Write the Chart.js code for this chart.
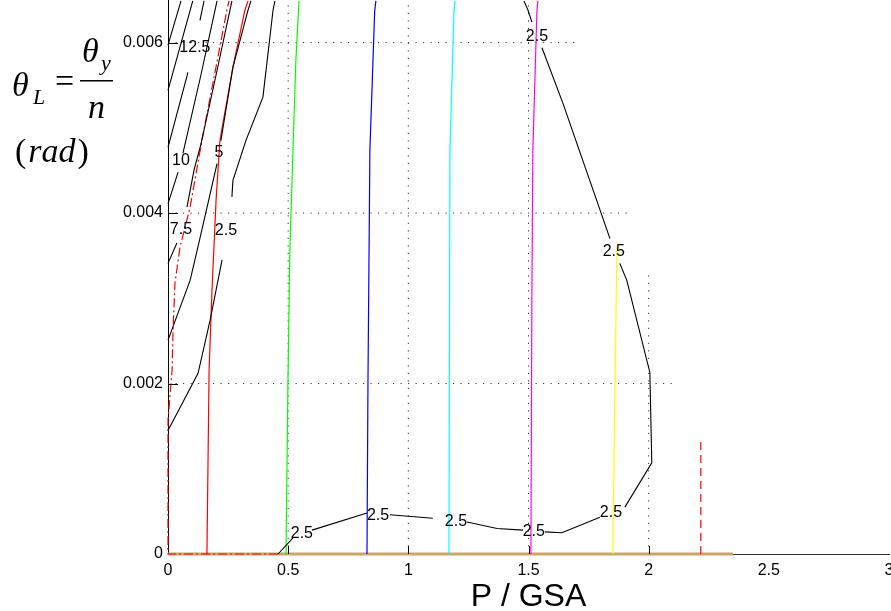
<!DOCTYPE html>
<html>
<head>
<meta charset="utf-8">
<title>theta_L contours vs P / GSA</title>
<script src="https://cdn.jsdelivr.net/npm/chart.js@4/dist/chart.umd.min.js"></script>
<style>
  html, body { margin: 0; padding: 0; background: #fff; overflow: hidden; }
  #wrap { width: 891px; height: 611px; }
</style>
</head>
<body>
<div id="wrap"><canvas id="chart" width="891" height="611"></canvas></div>
<script>
'use strict';

/* ── Axes (y in units of 1e-3 rad) ── */
const xTicks = [0, 0.5, 1, 1.5, 2, 2.5, 3];
const yTicks = [0, 2, 4, 6];
const xInnerTicks = [0.5, 1, 1.5, 2];
const yInnerTicks = [2, 4, 6];

/* dotted grid: rows [y, x end], cols [x, y end] */
const gridRows = [[6, 1.70], [4, 1.913], [2, 2.12]];
const gridCols = [[0.5, 6.5], [1, 6.5], [1.5, 6.5], [2, 3.27]];

/* ── Contour lines, points [P/GSA, theta_L (1e-3 rad)], null = label gap ── */
const cEdgeA = [[0.054, 6.49], [0, 5.97]];
const cEdgeB = [[0.103, 6.49], [0, 5.44]];
const c12_5  = [[0.150, 6.49], [0.133, 6.26], null, [0.083, 5.65], [0, 4.77]];
const c10    = [[0.204, 6.49], [0.137, 5.62], [0.062, 4.70], null, [0.042, 4.48], [0, 4.11]];
const c7_5   = [[0.266, 6.49], [0.200, 5.62], [0.137, 4.81], [0.108, 4.50], [0.079, 4.07], null,
                [0.037, 3.65], [0, 3.41]];
const c5     = [[0.345, 6.49], [0.333, 6.38], [0.270, 5.71], [0.220, 4.85], null,
                [0.204, 4.58], [0.166, 4.11], [0.121, 3.56], [0.092, 3.21], [0, 2.51]];
const c2_5L  = [[0.445, 6.49], [0.437, 6.38], [0.395, 5.36], [0.324, 4.85], [0.270, 4.38], [0.266, 4.19], null,
                [0.225, 3.45], [0.208, 3.21], [0.175, 2.74], [0.125, 2.12], [0, 1.45]];
const c2_5R  = [[0.458, 0], [0.520, 0.19], null,
                [0.599, 0.28], [0.828, 0.48], null,
                [0.923, 0.46], [1.102, 0.42], null,
                [1.244, 0.375], [1.369, 0.30], [1.477, 0.28], null,
                [1.568, 0.26], [1.639, 0.25], [1.797, 0.43], null,
                [1.901, 0.55], [2.013, 1.07], [2.005, 2.13], [1.909, 3.21], [1.880, 3.41], null,
                [1.839, 3.70], [1.643, 5.29], [1.556, 5.94], null,
                [1.514, 6.24], [1.498, 6.38], [1.481, 6.49]];

/* ── Coloured lines ── */
const redSolid   = [[0.162, 0], [0.171, 2.16], [0.183, 3.09], [0.200, 4.15], [0.216, 4.85],
                    [0.270, 5.71], [0.320, 6.38], [0.333, 6.49]];
const redDashDot = [[0.458, 0], [0, 0], [0, 1.57], [0.017, 2.16], [0.021, 2.63], [0.029, 3.18],
                    [0.050, 3.60], [0.092, 4.07], [0.141, 4.85], [0.245, 6.38], [0.254, 6.49]];
const greenLine  = [[0.491, 0], [0.499, 2.0], [0.507, 3.56], [0.520, 4.74], [0.532, 5.79], [0.545, 6.49]];
const blueLine   = [[0.828, 0], [0.832, 2.0], [0.840, 4.73], [0.860, 6.37], [0.865, 6.49]];
const cyanLine   = [[1.169, 0], [1.173, 4.73], [1.190, 6.37], [1.194, 6.49]];
const magLine    = [[1.510, 0], [1.514, 2.98], [1.518, 4.73], [1.535, 6.37], [1.539, 6.49]];
const yellowLine = [[1.851, 0], [1.860, 2.0], [1.868, 3.62]];
const redDashed  = [[2.217, 0], [2.217, 1.34]];
const baseLine   = [[0, 0], [2.35, 0]];

/* contour labels [x, y, text] */
const contourLabels = [
  [0.112, 5.94, '12.5'], [0.054, 4.61, '10'], [0.054, 3.81, '7.5'],
  [0.212, 4.71, '5'], [0.241, 3.79, '2.5'],
  [0.557, 0.234, '2.5'], [0.874, 0.445, '2.5'], [1.198, 0.375, '2.5'],
  [1.522, 0.258, '2.5'], [1.843, 0.49, '2.5'], [1.855, 3.55, '2.5'], [1.535, 6.07, '2.5'],
];

/* ============================================================
   DATASETS
   ============================================================ */
const SANS  = '"Liberation Sans", Arial, Helvetica, sans-serif';
const SERIF = '"Liberation Serif", "Times New Roman", serif';

function pts(arr) {
  return arr.map(p => p ? { x: p[0], y: p[1] } : { x: NaN, y: NaN });
}

function line(arr, color, extra = {}) {
  return Object.assign({
    data: pts(arr),
    showLine: true,
    borderColor: color,
    borderWidth: 1.1,
    pointRadius: 0,
    fill: false,
    clip: false,
    spanGaps: false,
    order: 1,
  }, extra);
}

const datasets = [];

gridRows.forEach(([gy, xEnd]) => {
  datasets.push(line([[0, gy], [xEnd, gy]], '#333', { borderWidth: 1, borderDash: [1.2, 6.3], order: 10 }));
});
gridCols.forEach(([gx, yEnd]) => {
  datasets.push(line([[gx, 0], [gx, yEnd]], '#333', { borderWidth: 1, borderDash: [1.2, 6.3], order: 10 }));
});

datasets.push(line(baseLine, '#C9A46B', { borderWidth: 3, order: 6 }));

[[greenLine, '#00FF00'], [blueLine, '#0000FF'], [cyanLine, '#00FFFF'],
 [magLine, '#FF00FF'], [yellowLine, '#FFFF00'], [redSolid, '#FF0000']].forEach(([arr, col]) => {
  datasets.push(line(arr, col, { borderWidth: 1.2, order: 4 }));
});
datasets.push(line(redDashDot, '#FF0000', { borderWidth: 1.2, borderDash: [9, 3, 2, 3], order: 3 }));
datasets.push(line(redDashed, '#FF0000', { borderWidth: 1.2, borderDash: [8, 5], order: 3 }));

[cEdgeA, cEdgeB, c12_5, c10, c7_5, c5, c2_5L, c2_5R].forEach(arr => {
  datasets.push(line(arr, '#000', { order: 1 }));
});

/* ============================================================
   OVERLAY: inner ticks, contour labels, y label
   ============================================================ */
function drawYLabel(ctx) {
  ctx.fillStyle = '#000';
  ctx.textAlign = 'left';
  ctx.textBaseline = 'alphabetic';

  ctx.font = `italic 34px ${SERIF}`;
  ctx.fillText('\u03B8', 12, 96);
  ctx.fillText('\u03B8', 82, 62);
  ctx.fillText('n', 88, 118);
  ctx.font = `italic 22px ${SERIF}`;
  ctx.fillText('L', 33, 104);
  ctx.fillText('y', 101, 70);
  ctx.font = `34px ${SERIF}`;
  ctx.fillText('=', 55, 92);
  ctx.fillRect(80, 80, 33, 1.5);

  let px = 15;
  const base = 162;
  ctx.font = `34px ${SERIF}`;
  ctx.fillText('(', px, base);
  px += ctx.measureText('(').width + 2;
  ctx.font = `italic 34px ${SERIF}`;
  ctx.fillText('rad', px, base);
  px += ctx.measureText('rad').width + 2;
  ctx.font = `34px ${SERIF}`;
  ctx.fillText(')', px, base);
}

const overlay = {
  id: 'overlay',
  afterDatasetsDraw(chart) {
    const { ctx, scales: { x, y } } = chart;
    ctx.save();

    ctx.strokeStyle = '#000';
    ctx.lineWidth = 1;
    ctx.beginPath();
    xInnerTicks.forEach(v => {
      const px = Math.round(x.getPixelForValue(v)) + 0.5;
      ctx.moveTo(px, y.bottom);
      ctx.lineTo(px, y.bottom - 8);
    });
    yInnerTicks.forEach(v => {
      const py = Math.round(y.getPixelForValue(v)) + 0.5;
      ctx.moveTo(x.left, py);
      ctx.lineTo(x.left + 10, py);
    });
    ctx.stroke();

    ctx.font = `16px ${SANS}`;
    ctx.fillStyle = '#000';
    ctx.textAlign = 'center';
    ctx.textBaseline = 'middle';
    contourLabels.forEach(([vx, vy, t]) => {
      ctx.fillText(t, x.getPixelForValue(vx), y.getPixelForValue(vy));
    });

    drawYLabel(ctx);
    ctx.restore();
  },
};

/* ============================================================
   CHART
   ============================================================ */
new Chart(document.getElementById('chart'), {
  type: 'scatter',
  data: { datasets },
  plugins: [overlay],
  options: {
    responsive: false,
    animation: false,
    layout: { padding: { right: 2 } },
    plugins: { legend: { display: false }, tooltip: { enabled: false } },
    elements: { point: { radius: 0 }, line: { tension: 0 } },
    scales: {
      x: {
        type: 'linear',
        min: 0,
        max: 3,
        afterBuildTicks: s => { s.ticks = xTicks.map(v => ({ value: v })); },
        afterFit: s => { s.height = 57; s.paddingLeft = 0; s.paddingRight = 0; },
        grid: { display: false, drawTicks: false },
        border: { display: true, color: '#333', width: 1 },
        ticks: {
          autoSkip: false,
          maxRotation: 0,
          padding: 7,
          color: '#000',
          font: { family: SANS, size: 16 },
          callback: v => String(v),
        },
        title: {
          display: true,
          text: 'P / GSA',
          color: '#000',
          font: { family: SANS, size: 32 },
          padding: { top: 0, bottom: -5 },
        },
      },
      y: {
        type: 'linear',
        min: 0,
        max: 6.5,
        afterBuildTicks: s => { s.ticks = yTicks.map(v => ({ value: v })); },
        afterFit: s => { s.width = 168; s.paddingTop = 0; s.paddingBottom = 0; },
        grid: { display: false, drawTicks: false },
        border: { display: true, color: '#000', width: 1 },
        ticks: {
          padding: 5,
          color: '#000',
          font: { family: SANS, size: 16 },
          callback: v => v === 0 ? '0' : (v / 1000).toFixed(3),
        },
      },
    },
  },
});
</script>
</body>
</html>
